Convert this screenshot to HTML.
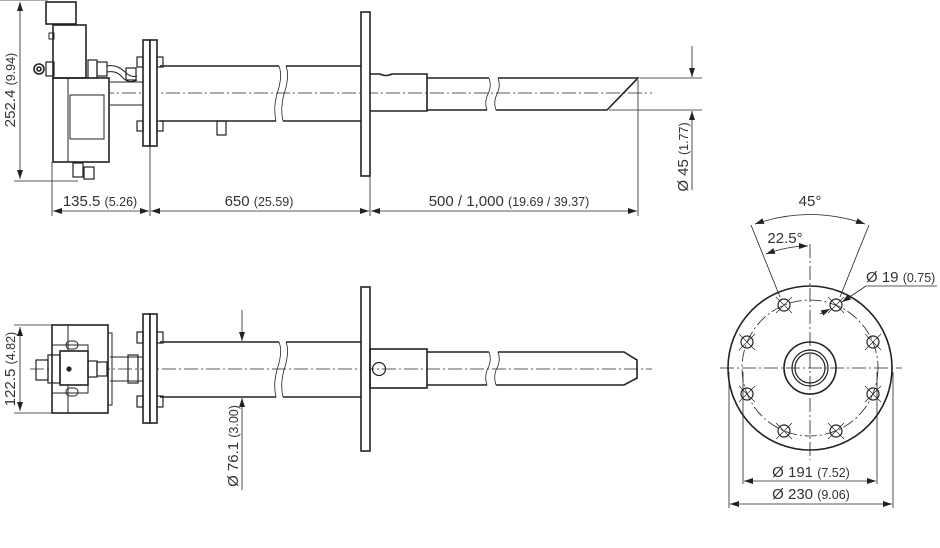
<!DOCTYPE html>
<html><head><meta charset="utf-8"><style>
body{margin:0;background:#fff}
svg{display:block}
text{font-family:"Liberation Sans",sans-serif;fill:#333;font-size:15px}
.s{font-size:12.5px}
</style></head><body>
<svg width="940" height="548" viewBox="0 0 940 548" xmlns="http://www.w3.org/2000/svg">
<defs>
<marker id="a" markerWidth="10" markerHeight="8" refX="9" refY="4" orient="auto-start-reverse" markerUnits="userSpaceOnUse"><path d="M0,1 L9,4 L0,7z" fill="#222"/></marker>
</defs>
<g stroke="#222" fill="none" stroke-width="1.6">
<line x1="100" y1="93" x2="652" y2="93" stroke-width="0.8" stroke-dasharray="14 3 2 3"/>
<rect x="361" y="12" width="9" height="164" fill="#fff"/>
<path d="M160 66 H279 M286 66 H361 M160 121 H276 M283 121 H361"/>
<path d="M279 66 q4 10 -2 28 q-4 14 -1 27 M286 66 q4 10 -2 28 q-4 14 -1 27" stroke-width="0.8"/>
<path d="M370 74 H380 q6 3 12 0 H427 V111 H370"/>
<path d="M427 78 H489 M498 78 H638 L607 110 H496 M487 110 H427"/>
<path d="M489 78 q3 8 -1 16 q-4 8 -1 16 M498 78 q3 8 -1 16 q-4 8 -1 16" stroke-width="0.8"/>
<rect x="143" y="40" width="7" height="106" fill="#fff"/>
<rect x="150" y="40" width="7" height="106" fill="#fff"/>
<rect x="137" y="57" width="6" height="10" stroke-width="1.2"/><rect x="157" y="57" width="6" height="10" stroke-width="1.2"/>
<rect x="137" y="121" width="6" height="10" stroke-width="1.2"/><rect x="157" y="121" width="6" height="10" stroke-width="1.2"/>
<rect x="217" y="121" width="9" height="14" stroke-width="1.2"/>
<path d="M110 82 H143 M110 105 H143" stroke-width="1"/>
<rect x="53" y="78" width="56" height="84" fill="#fff"/>
<line x1="68" y1="78" x2="68" y2="162" stroke-width="1"/>
<rect x="70" y="95" width="34" height="44" stroke-width="1"/>
<rect x="53" y="25" width="33" height="53"/>
<rect x="46" y="2" width="30" height="22"/>
<rect x="49" y="33" width="5" height="6" stroke-width="1"/>
<circle cx="39" cy="69" r="5"/><circle cx="39" cy="69" r="2"/>
<rect x="46" y="62" width="8" height="14" stroke-width="1.2"/>
<rect x="88" y="60" width="9" height="18" stroke-width="1.2"/><rect x="97" y="62" width="10" height="14" stroke-width="1.2"/>
<path d="M107 66 q10 -2 18 6 q6 6 12 4 M107 72 q10 -2 16 6 q6 6 14 2" stroke-width="1"/>
<rect x="126" y="68" width="10" height="12" stroke-width="1.2"/>
<rect x="73" y="163" width="10" height="14" stroke-width="1.2"/><rect x="84" y="167" width="10" height="12" stroke-width="1.2"/>
<g stroke-width="0.8">
<line x1="0" y1="0" x2="48" y2="0"/><line x1="14" y1="181" x2="78" y2="181"/>
<line x1="20" y1="2" x2="20" y2="179" marker-start="url(#a)" marker-end="url(#a)"/>
<line x1="52" y1="162" x2="52" y2="216"/><line x1="150" y1="146" x2="150" y2="216"/><line x1="370" y1="176" x2="370" y2="216"/><line x1="638" y1="80" x2="638" y2="216"/>
<line x1="53" y1="211" x2="149" y2="211" marker-start="url(#a)" marker-end="url(#a)"/>
<line x1="151" y1="211" x2="369" y2="211" marker-start="url(#a)" marker-end="url(#a)"/>
<line x1="371" y1="211" x2="637" y2="211" marker-start="url(#a)" marker-end="url(#a)"/>
<line x1="640" y1="78" x2="702" y2="78"/><line x1="609" y1="110" x2="702" y2="110"/>
<line x1="692" y1="46" x2="692" y2="77" marker-end="url(#a)"/><line x1="692" y1="190" x2="692" y2="111" marker-end="url(#a)"/>
</g>
<line x1="30" y1="369" x2="652" y2="369" stroke-width="0.8" stroke-dasharray="14 3 2 3"/>
<rect x="361" y="287" width="9" height="164" fill="#fff"/>
<path d="M160 342 H279 M286 342 H361 M160 397 H276 M283 397 H361"/>
<path d="M279 342 q4 10 -2 28 q-4 14 -1 27 M286 342 q4 10 -2 28 q-4 14 -1 27" stroke-width="0.8"/>
<rect x="370" y="349" width="57" height="39"/>
<circle cx="379" cy="369" r="6.5" stroke-width="1.2"/>
<path d="M427 352 H489 M498 352 H624 L637 360 V378 L624 385 H496 M487 385 H427"/>
<path d="M489 352 q3 8 -1 16 q-4 8 -1 17 M498 352 q3 8 -1 16 q-4 8 -1 17" stroke-width="0.8"/>
<rect x="143" y="314" width="7" height="109" fill="#fff"/>
<rect x="150" y="314" width="7" height="109" fill="#fff"/>
<rect x="137" y="332" width="6" height="11" stroke-width="1.2"/><rect x="157" y="332" width="6" height="11" stroke-width="1.2"/>
<rect x="137" y="396" width="6" height="11" stroke-width="1.2"/><rect x="157" y="396" width="6" height="11" stroke-width="1.2"/>
<path d="M110 357 H143 M110 381 H143" stroke-width="1"/>
<rect x="128" y="355" width="10" height="28" stroke-width="1.2"/>
<rect x="52" y="325" width="56" height="88" fill="#fff"/>
<path d="M68 325 V413 M52 345 H88 V393 H52" stroke-width="1"/>
<rect x="108" y="333" width="4" height="72" stroke-width="1"/>
<rect x="60" y="351" width="28" height="34" fill="#fff"/>
<circle cx="69" cy="369" r="1.8" fill="#222"/>
<rect x="48" y="355" width="12" height="28" stroke-width="1.2"/>
<rect x="36" y="360" width="12" height="20" stroke-width="1.2"/>
<rect x="88" y="361" width="9" height="16" stroke-width="1.2"/><rect x="97" y="362" width="10" height="14" stroke-width="1.2"/>
<rect x="66" y="341" width="12" height="8" rx="4" stroke-width="1"/><rect x="66" y="388" width="12" height="8" rx="4" stroke-width="1"/>
<g stroke-width="0.8">
<line x1="14" y1="325" x2="52" y2="325"/><line x1="14" y1="413" x2="52" y2="413"/>
<line x1="20" y1="327" x2="20" y2="411" marker-start="url(#a)" marker-end="url(#a)"/>
<line x1="242" y1="310" x2="242" y2="341" marker-end="url(#a)"/><line x1="242" y1="490" x2="242" y2="398" marker-end="url(#a)"/>
</g>
<circle cx="810" cy="368" r="82"/>
<circle cx="810" cy="368" r="68" stroke-width="0.8" stroke-dasharray="12 3 2 3"/>
<circle cx="810" cy="368" r="26"/>
<circle cx="810" cy="368" r="18" stroke-width="1.2"/>
<circle cx="810" cy="368" r="15" stroke-width="1.2"/>
<line x1="720" y1="368" x2="902" y2="368" stroke-width="0.8" stroke-dasharray="14 3 2 3"/>
<line x1="810" y1="244" x2="810" y2="460" stroke-width="0.8" stroke-dasharray="14 3 2 3"/>
<g stroke-width="1.2">
<circle cx="836" cy="305" r="6"/><circle cx="784" cy="305" r="6"/>
<circle cx="873" cy="342" r="6"/><circle cx="747" cy="342" r="6"/>
<circle cx="873" cy="394" r="6"/><circle cx="747" cy="394" r="6"/>
<circle cx="836" cy="431" r="6"/><circle cx="784" cy="431" r="6"/>
</g>
<g stroke-width="0.7">
<path d="M776 297 l16 16 M792 297 l-16 16 M828 297 l16 16 M844 297 l-16 16 M739 334 l16 16 M755 334 l-16 16 M865 334 l16 16 M881 334 l-16 16 M739 386 l16 16 M755 386 l-16 16 M865 386 l16 16 M881 386 l-16 16 M776 423 l16 16 M792 423 l-16 16 M828 423 l16 16 M844 423 l-16 16"/>
</g>
<g stroke-width="0.8">
<line x1="751" y1="225" x2="780" y2="297"/><line x1="869" y1="225" x2="840" y2="297"/>
<path d="M755 224 Q810 205 865 224" marker-start="url(#a)" marker-end="url(#a)"/>
<path d="M766 254 Q788 246 808 246" marker-start="url(#a)" marker-end="url(#a)"/>
<line x1="937" y1="286" x2="866" y2="286"/><line x1="866" y1="286" x2="842" y2="302" marker-end="url(#a)"/>
<line x1="820" y1="314" x2="830" y2="309" marker-end="url(#a)"/>
<line x1="743" y1="372" x2="743" y2="484"/><line x1="877" y1="372" x2="877" y2="484"/>
<line x1="729" y1="372" x2="729" y2="508"/><line x1="893" y1="372" x2="893" y2="508"/>
<line x1="744" y1="481" x2="876" y2="481" marker-start="url(#a)" marker-end="url(#a)"/>
<line x1="730" y1="504" x2="892" y2="504" marker-start="url(#a)" marker-end="url(#a)"/>
</g>
</g>
<text transform="translate(15,90) rotate(-90)" text-anchor="middle">252.4 <tspan class="s">(9.94)</tspan></text>
<text x="100" y="206" text-anchor="middle">135.5 <tspan class="s">(5.26)</tspan></text>
<text x="259" y="206" text-anchor="middle">650 <tspan class="s">(25.59)</tspan></text>
<text x="509" y="206" text-anchor="middle">500 / 1,000 <tspan class="s">(19.69 / 39.37)</tspan></text>
<text transform="translate(688,157) rotate(-90)" text-anchor="middle">Ø 45 <tspan class="s">(1.77)</tspan></text>
<text transform="translate(15,369) rotate(-90)" text-anchor="middle">122.5 <tspan class="s">(4.82)</tspan></text>
<text transform="translate(238,446) rotate(-90)" text-anchor="middle">Ø 76.1 <tspan class="s">(3.00)</tspan></text>
<text x="810" y="206" text-anchor="middle">45°</text>
<text x="785" y="243" text-anchor="middle">22.5°</text>
<text x="866" y="282">Ø 19 <tspan class="s">(0.75)</tspan></text>
<text x="811" y="477" text-anchor="middle">Ø 191 <tspan class="s">(7.52)</tspan></text>
<text x="811" y="499" text-anchor="middle">Ø 230 <tspan class="s">(9.06)</tspan></text>
</svg>
</body></html>
